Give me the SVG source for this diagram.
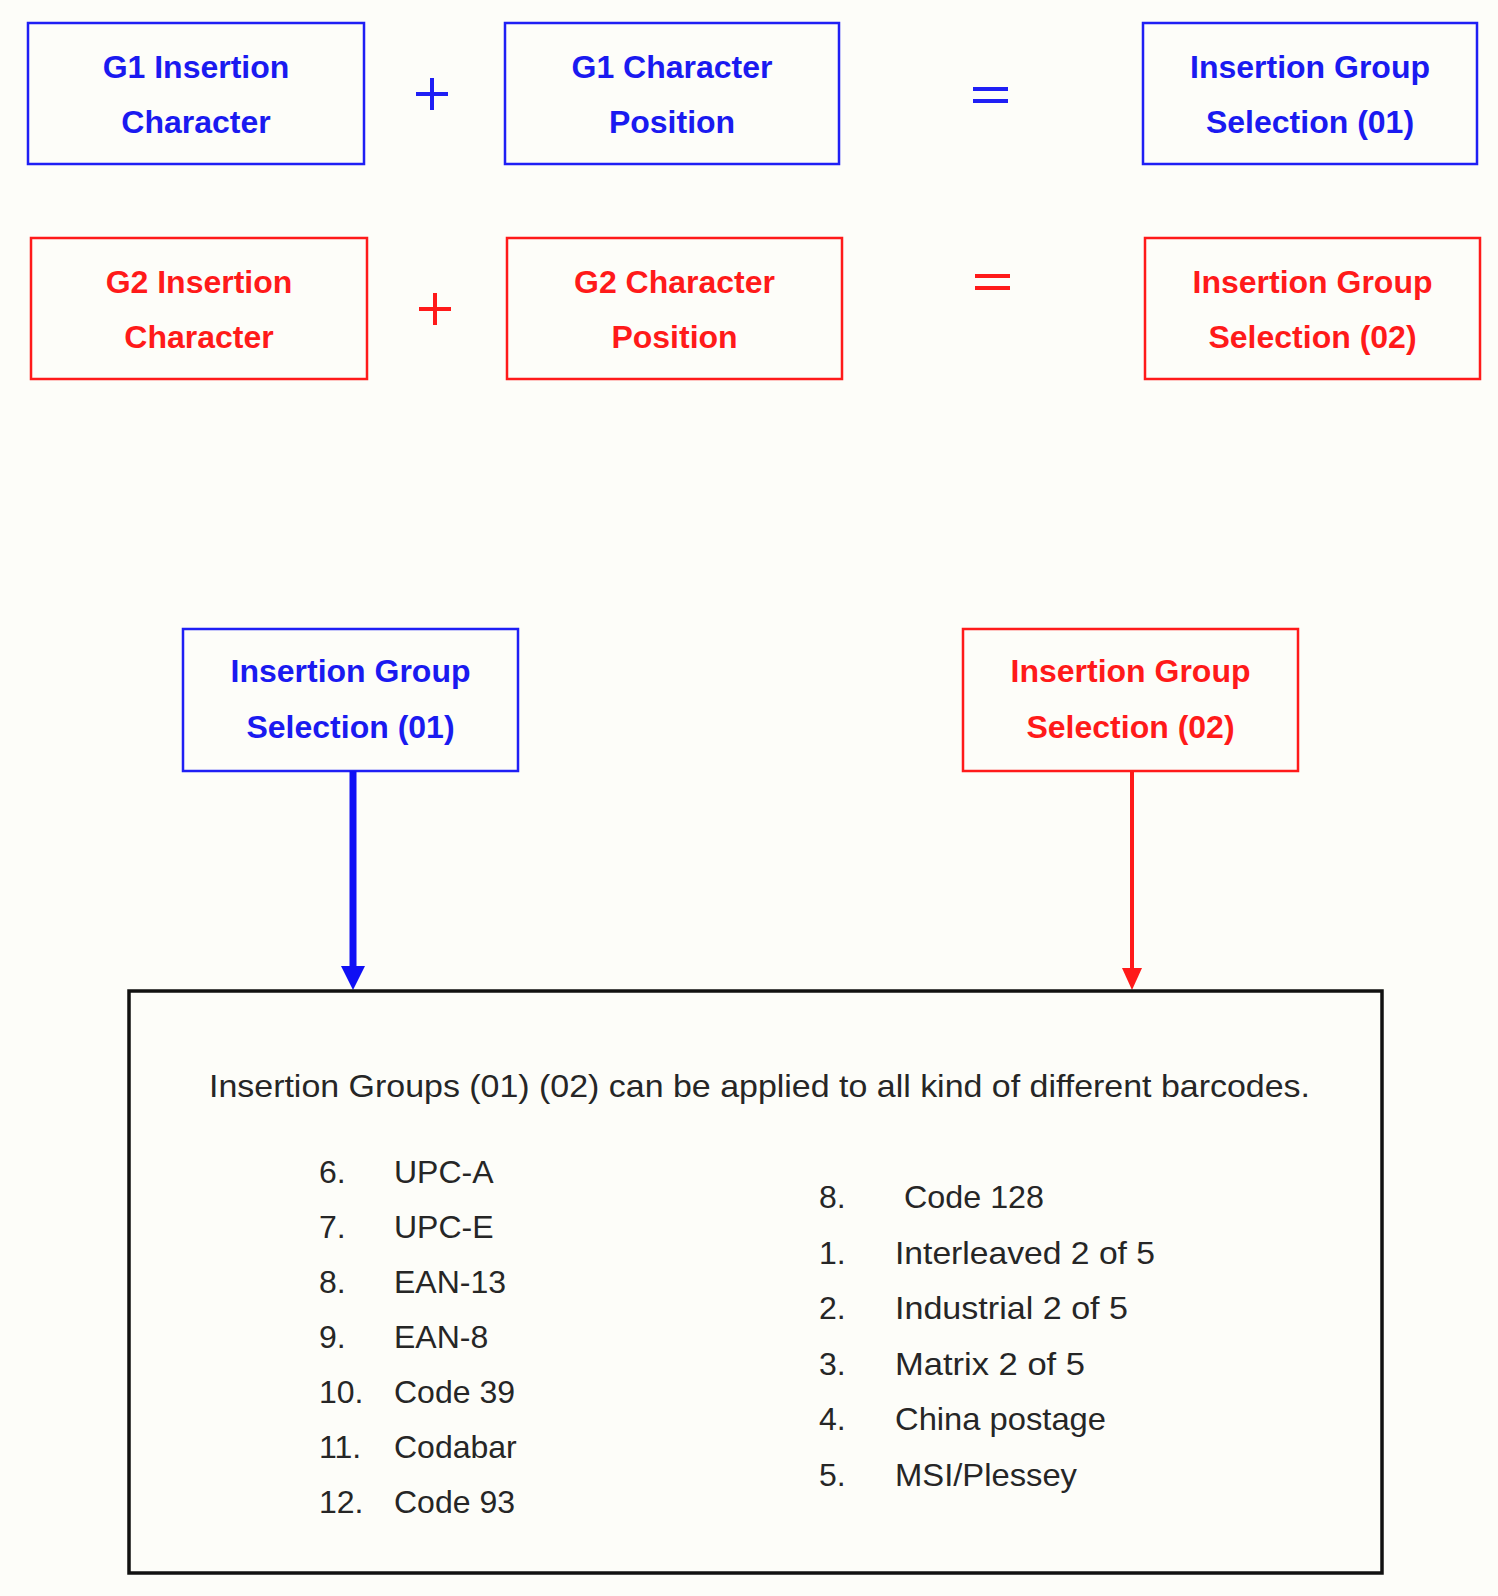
<svg xmlns="http://www.w3.org/2000/svg" width="1498" height="1596" viewBox="0 0 1498 1596">
<style>
.bg{fill:#FDFDF9}
.bx{fill:#FDFDF9;stroke-width:2.5}
.blue{stroke:#1F1FF5}
.red{stroke:#FF1A1A}
.tb{font-family:"Liberation Sans",Arial,sans-serif;font-weight:bold;font-size:32px;text-anchor:middle}
.tblue{fill:#1A1AF0}
.tred{fill:#FF1A1A}
.op{fill:none;stroke-width:4}
.list{font-family:"Liberation Sans",Arial,sans-serif;font-size:32px;fill:#262626}
</style>
<rect class="bg" x="0" y="0" width="1498" height="1596"/>

<g id="g1-insertion-character">
<rect class="bx blue" x="28" y="23" width="336" height="141"/>
<text class="tb tblue" x="196" y="78">G1 Insertion</text>
<text class="tb tblue" x="196" y="133">Character</text>
</g>
<g id="g1-character-position">
<rect class="bx blue" x="505" y="23" width="334" height="141"/>
<text class="tb tblue" x="672" y="78">G1 Character</text>
<text class="tb tblue" x="672" y="133">Position</text>
</g>
<g id="insertion-group-01-top">
<rect class="bx blue" x="1143" y="23" width="334" height="141"/>
<text class="tb tblue" x="1310" y="78">Insertion Group</text>
<text class="tb tblue" x="1310" y="133">Selection (01)</text>
</g>

<g id="g2-insertion-character">
<rect class="bx red" x="31" y="238" width="336" height="141"/>
<text class="tb tred" x="199" y="293">G2 Insertion</text>
<text class="tb tred" x="199" y="348">Character</text>
</g>
<g id="g2-character-position">
<rect class="bx red" x="507" y="238" width="335" height="141"/>
<text class="tb tred" x="674.5" y="293">G2 Character</text>
<text class="tb tred" x="674.5" y="348">Position</text>
</g>
<g id="insertion-group-02-top">
<rect class="bx red" x="1145" y="238" width="335" height="141"/>
<text class="tb tred" x="1312.5" y="293">Insertion Group</text>
<text class="tb tred" x="1312.5" y="348">Selection (02)</text>
</g>

<g id="operators">
<path class="op blue" d="M416 94H448M432 78V110"/>
<path class="op blue" d="M973 89H1008M973 101H1008"/>
<path class="op red" d="M419 309H451M435 293V325"/>
<path class="op red" d="M975 276H1010M975 288H1010"/>
</g>

<g id="insertion-group-01">
<rect class="bx blue" x="183" y="629" width="335" height="142"/>
<text class="tb tblue" x="350.5" y="682">Insertion Group</text>
<text class="tb tblue" x="350.5" y="738">Selection (01)</text>
</g>
<g id="insertion-group-02">
<rect class="bx red" x="963" y="629" width="335" height="142"/>
<text class="tb tred" x="1130.5" y="682">Insertion Group</text>
<text class="tb tred" x="1130.5" y="738">Selection (02)</text>
</g>

<g id="connectors">
<line x1="353" y1="771" x2="353" y2="970" stroke="#1010F5" stroke-width="7"/>
<polygon points="341,966 365,966 353,990" fill="#1010F5"/>
<line x1="1132" y1="771" x2="1132" y2="972" stroke="#FF1A1A" stroke-width="4"/>
<polygon points="1122,968 1142,968 1132,990" fill="#FF1A1A"/>
</g>

<g id="barcodes-box">
<rect x="129" y="991" width="1253" height="582" fill="#FDFDF9" stroke="#111" stroke-width="3.5"/>
<text class="list" x="209" y="1097" textLength="1101" lengthAdjust="spacingAndGlyphs">Insertion Groups (01) (02) can be applied to all kind of different barcodes.</text>
<text class="list" x="319" y="1183">6.</text><text class="list" x="394" y="1183">UPC-A</text>
<text class="list" x="319" y="1238">7.</text><text class="list" x="394" y="1238">UPC-E</text>
<text class="list" x="319" y="1293">8.</text><text class="list" x="394" y="1293">EAN-13</text>
<text class="list" x="319" y="1348">9.</text><text class="list" x="394" y="1348">EAN-8</text>
<text class="list" x="319" y="1403">10.</text><text class="list" x="394" y="1403">Code 39</text>
<text class="list" x="319" y="1458">11.</text><text class="list" x="394" y="1458">Codabar</text>
<text class="list" x="319" y="1513">12.</text><text class="list" x="394" y="1513">Code 93</text>
<text class="list" x="819" y="1208">8.</text><text class="list" x="904" y="1208" textLength="140" lengthAdjust="spacingAndGlyphs">Code 128</text>
<text class="list" x="819" y="1264">1.</text><text class="list" x="895" y="1264" textLength="260" lengthAdjust="spacingAndGlyphs">Interleaved 2 of 5</text>
<text class="list" x="819" y="1319">2.</text><text class="list" x="895" y="1319" textLength="233" lengthAdjust="spacingAndGlyphs">Industrial 2 of 5</text>
<text class="list" x="819" y="1375">3.</text><text class="list" x="895" y="1375" textLength="190" lengthAdjust="spacingAndGlyphs">Matrix 2 of 5</text>
<text class="list" x="819" y="1430">4.</text><text class="list" x="895" y="1430" textLength="211" lengthAdjust="spacingAndGlyphs">China postage</text>
<text class="list" x="819" y="1486">5.</text><text class="list" x="895" y="1486" textLength="182" lengthAdjust="spacingAndGlyphs">MSI/Plessey</text>
</g>
</svg>
